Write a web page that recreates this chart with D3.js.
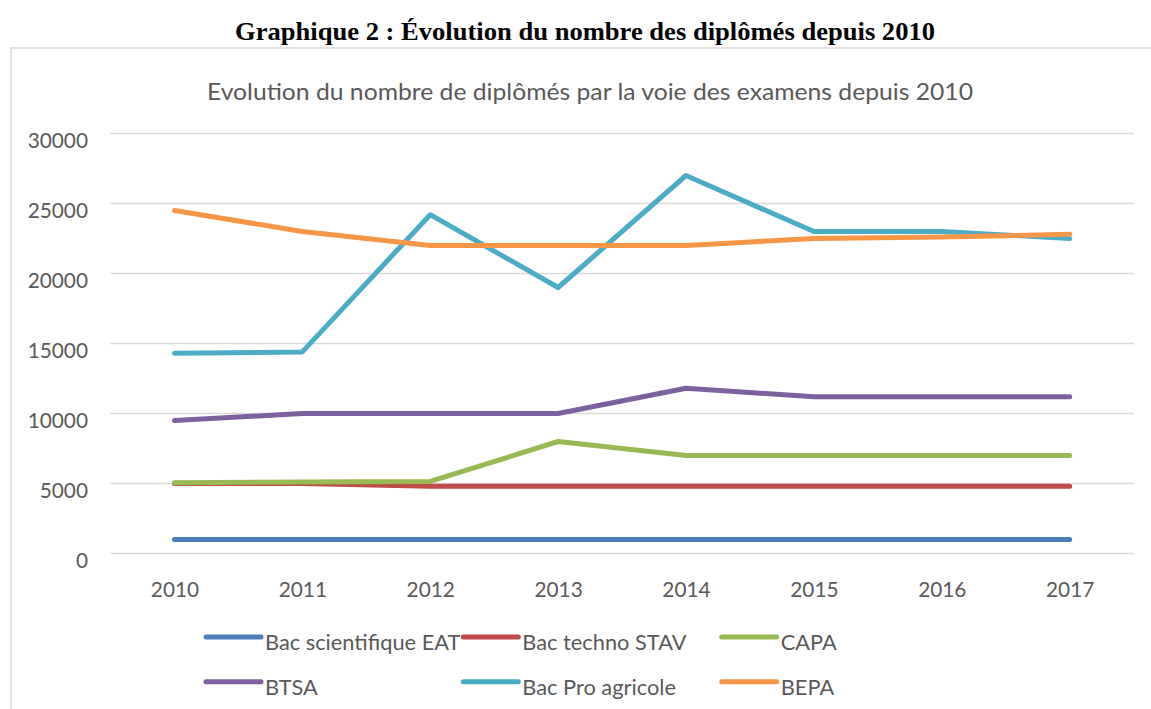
<!DOCTYPE html>
<html>
<head>
<meta charset="utf-8">
<script src="https://cdn.jsdelivr.net/npm/d3@7"></script>
<style>
  html, body { margin: 0; padding: 0; background: #ffffff; }
  svg { display: block; }
</style>
</head>
<body>
<svg id="chart" width="1151" height="709"></svg>
<script>
// ---- Data ----
const years = ["2010", "2011", "2012", "2013", "2014", "2015", "2016", "2017"];
const seriesNames = ["Bac scientifique EAT", "Bac techno STAV", "CAPA", "BTSA", "Bac Pro agricole", "BEPA"];
const bacScientifiqueEAT = [1000, 1000, 1000, 1000, 1000, 1000, 1000, 1000];
const bacTechnoSTAV      = [5000, 5000, 4800, 4800, 4800, 4800, 4800, 4800];
const capa               = [5050, 5100, 5150, 8000, 7000, 7000, 7000, 7000];
const btsa               = [9500, 10000, 10000, 10000, 11800, 11200, 11200, 11200];
const bacProAgricole     = [14300, 14400, 24200, 19000, 27000, 23000, 23000, 22500];
const bepa               = [24500, 23000, 22000, 22000, 22000, 22500, 22600, 22800];
const yTicks = [0, 5000, 10000, 15000, 20000, 25000, 30000];
const mainTitle = "Graphique 2 : Évolution du nombre des diplômés depuis 2010";
const chartTitle = "Evolution du nombre de diplômés par la voie des examens depuis 2010";

const seriesValues = [bacScientifiqueEAT, bacTechnoSTAV, capa, btsa, bacProAgricole, bepa];
const colors = ["#4a7ebb", "#be4b48", "#98b954", "#7d60a0", "#4bacc6", "#f79646"];

// ---- Layout ----
const svg = d3.select("#chart");
const textGray = "#595959";
const gridGray = "#d9d9d9";

// outer chart frame
svg.append("rect")
  .attr("x", 11).attr("y", 48)
  .attr("width", 1300).attr("height", 800)
  .attr("fill", "none").attr("stroke", gridGray).attr("stroke-width", 1.5);

// main title
svg.append("text")
  .attr("x", 585).attr("y", 40)
  .attr("text-anchor", "middle")
  .attr("font-family", "'Liberation Serif', 'Times New Roman', serif")
  .attr("font-weight", "bold")
  .attr("font-size", 25)
  .attr("textLength", 700)
  .attr("lengthAdjust", "spacingAndGlyphs")
  .attr("fill", "#000")
  .text(mainTitle);

// chart title
svg.append("text")
  .attr("x", 590).attr("y", 100)
  .attr("text-anchor", "middle")
  .attr("font-family", "Lato, 'Open Sans', sans-serif")
  .attr("font-size", 23)
  .attr("textLength", 766)
  .attr("lengthAdjust", "spacingAndGlyphs")
  .attr("fill", textGray)
  .text(chartTitle);

// scales
const x = d3.scalePoint().domain(years).range([110.5, 1133.6]).padding(0.5);
const y = d3.scaleLinear().domain([0, 30000]).range([553.5, 133.5]);

// gridlines
svg.append("g").selectAll("line").data(yTicks).join("line")
  .attr("x1", 110).attr("x2", 1134)
  .attr("y1", d => y(d)).attr("y2", d => y(d))
  .attr("stroke", gridGray).attr("stroke-width", 1.5);

// y axis labels
const yAxis = d3.axisLeft(y).tickValues(yTicks).tickSize(0).tickPadding(0).tickFormat(d3.format("d"));
const yg = svg.append("g").attr("transform", "translate(88,0)").call(yAxis);
yg.select(".domain").remove();
yg.selectAll("text")
  .attr("font-family", "Lato, 'Open Sans', sans-serif")
  .attr("font-size", 20.8)
  .attr("fill", textGray)
  .attr("dy", null)
  .attr("y", 13.5);

// x axis labels
const xAxis = d3.axisBottom(x).tickSize(0).tickPadding(0);
const xg = svg.append("g").attr("transform", "translate(0,0)").call(xAxis);
xg.select(".domain").remove();
xg.selectAll("text")
  .attr("font-family", "Lato, 'Open Sans', sans-serif")
  .attr("font-size", 20.8)
  .attr("fill", textGray)
  .attr("dy", null)
  .attr("y", 596.5);

// lines
const line = d3.line().x((d, i) => x(years[i])).y(d => y(d));
svg.append("g").selectAll("path").data(seriesValues).join("path")
  .attr("d", d => line(d))
  .attr("fill", "none")
  .attr("stroke", (d, i) => colors[i])
  .attr("stroke-width", 5)
  .attr("stroke-linecap", "round")
  .attr("stroke-linejoin", "round");

// legend
const legX = [206, 463.3, 721.7];
const legY = [637, 681.7];
const leg = svg.append("g").selectAll("g").data(seriesNames).join("g")
  .attr("transform", (d, i) => `translate(${legX[i % 3]},${legY[Math.floor(i / 3)]})`);
leg.append("line")
  .attr("x1", 0).attr("x2", 55).attr("y1", 0).attr("y2", 0)
  .attr("stroke", (d, i) => colors[i])
  .attr("stroke-width", 5)
  .attr("stroke-linecap", "round");
leg.append("text")
  .attr("x", 59).attr("y", 13)
  .attr("font-family", "Lato, 'Open Sans', sans-serif")
  .attr("font-size", 21.8)
  .attr("fill", textGray)
  .text(d => d);
</script>
</body>
</html>
